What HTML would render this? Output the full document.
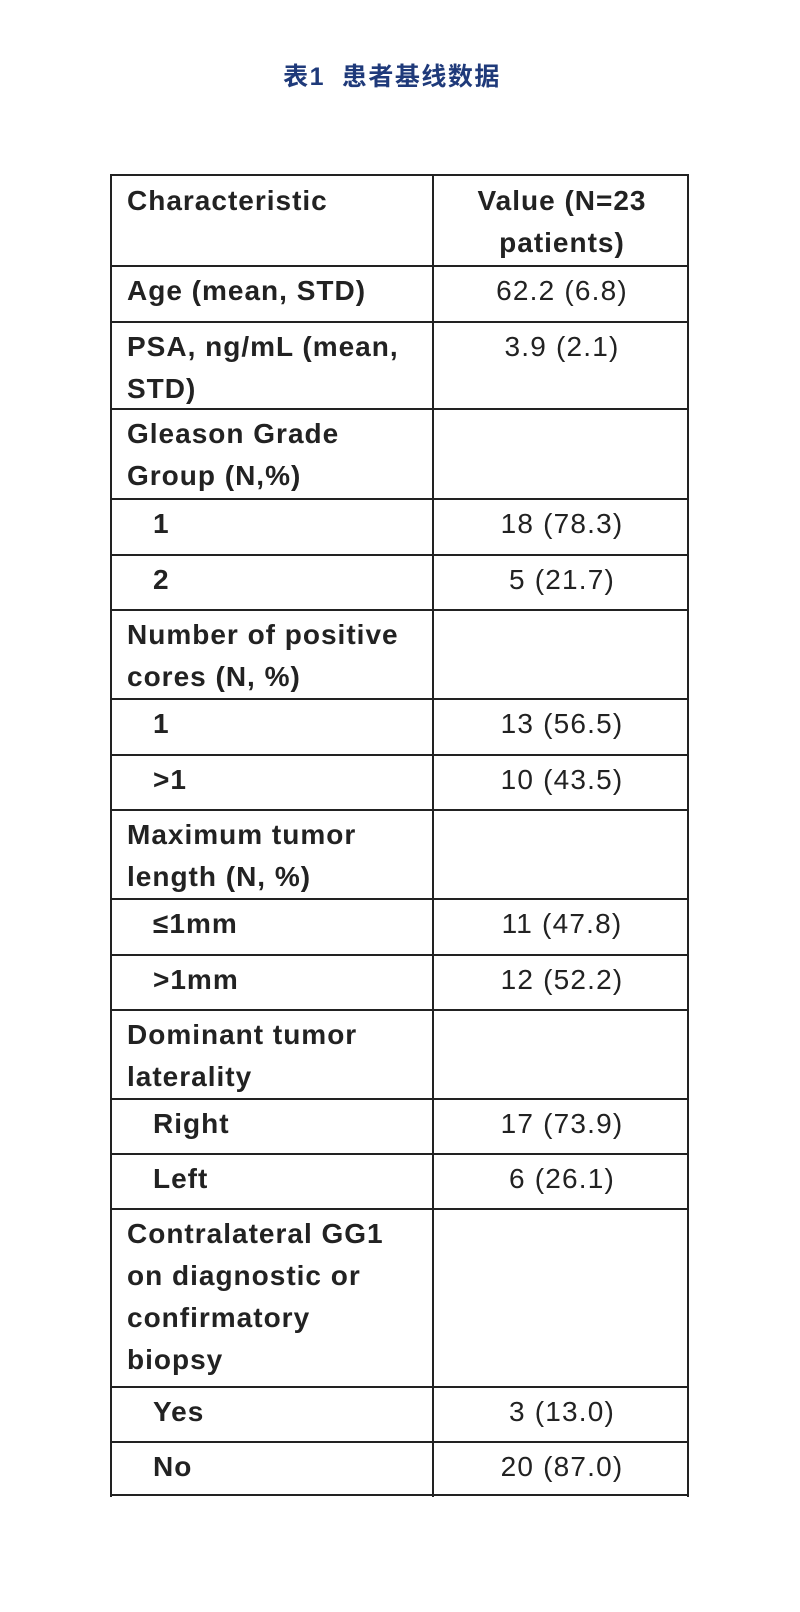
<!DOCTYPE html>
<html><head><meta charset="utf-8"><style>
body{margin:0;width:800px;height:1612px;background:#fff;position:relative;overflow:hidden}
.t{position:absolute;top:57px;left:0;width:784px;text-align:center;font:bold 25px "Liberation Sans","Noto Sans CJK SC",sans-serif;color:#1f3a7a;letter-spacing:1.5px}
.h{position:absolute;left:110px;width:579px;height:2px;background:#222}
.v{position:absolute;top:175px;height:1322px;width:2px;background:#222}
.c{position:absolute;font:bold 28px/42px "Liberation Sans",sans-serif;color:#222;letter-spacing:1px}
.r{position:absolute;left:435px;width:254px;text-align:center;font:28px/42px "Liberation Sans",sans-serif;color:#222;letter-spacing:1.2px}
</style></head><body>
<div class="t">表1&nbsp; 患者基线数据</div>
<div class="h" style="top:174px"></div><div class="h" style="top:265px"></div><div class="h" style="top:321px"></div><div class="h" style="top:408px"></div><div class="h" style="top:498px"></div><div class="h" style="top:554px"></div><div class="h" style="top:609px"></div><div class="h" style="top:698px"></div><div class="h" style="top:754px"></div><div class="h" style="top:809px"></div><div class="h" style="top:898px"></div><div class="h" style="top:954px"></div><div class="h" style="top:1009px"></div><div class="h" style="top:1098px"></div><div class="h" style="top:1153px"></div><div class="h" style="top:1208px"></div><div class="h" style="top:1386px"></div><div class="h" style="top:1441px"></div><div class="h" style="top:1494px"></div>
<div class="v" style="left:110px"></div><div class="v" style="left:432px"></div><div class="v" style="left:687px"></div>
<div class="c" style="left:127px;top:180px">Characteristic</div>
<div class="r" style="top:180px;font-weight:bold;letter-spacing:1px">Value (N=23<br>patients)</div>
<div class="c" style="left:127px;top:270px">Age (mean, STD)</div><div class="r" style="top:270px">62.2 (6.8)</div>
<div class="c" style="left:127px;top:326px">PSA, ng/mL (mean,<br>STD)</div><div class="r" style="top:326px">3.9 (2.1)</div>
<div class="c" style="left:127px;top:413px">Gleason Grade<br>Group (N,%)</div>
<div class="c" style="left:153px;top:503px">1</div><div class="r" style="top:503px">18 (78.3)</div>
<div class="c" style="left:153px;top:559px">2</div><div class="r" style="top:559px">5 (21.7)</div>
<div class="c" style="left:127px;top:614px">Number of positive<br>cores (N, %)</div>
<div class="c" style="left:153px;top:703px">1</div><div class="r" style="top:703px">13 (56.5)</div>
<div class="c" style="left:153px;top:759px">&gt;1</div><div class="r" style="top:759px">10 (43.5)</div>
<div class="c" style="left:127px;top:814px">Maximum tumor<br>length (N, %)</div>
<div class="c" style="left:153px;top:903px">≤1mm</div><div class="r" style="top:903px">11 (47.8)</div>
<div class="c" style="left:153px;top:959px">&gt;1mm</div><div class="r" style="top:959px">12 (52.2)</div>
<div class="c" style="left:127px;top:1014px">Dominant tumor<br>laterality</div>
<div class="c" style="left:153px;top:1103px">Right</div><div class="r" style="top:1103px">17 (73.9)</div>
<div class="c" style="left:153px;top:1158px">Left</div><div class="r" style="top:1158px">6 (26.1)</div>
<div class="c" style="left:127px;top:1213px">Contralateral GG1<br>on diagnostic or<br>confirmatory<br>biopsy</div>
<div class="c" style="left:153px;top:1391px">Yes</div><div class="r" style="top:1391px">3 (13.0)</div>
<div class="c" style="left:153px;top:1446px">No</div><div class="r" style="top:1446px">20 (87.0)</div>
</body></html>
